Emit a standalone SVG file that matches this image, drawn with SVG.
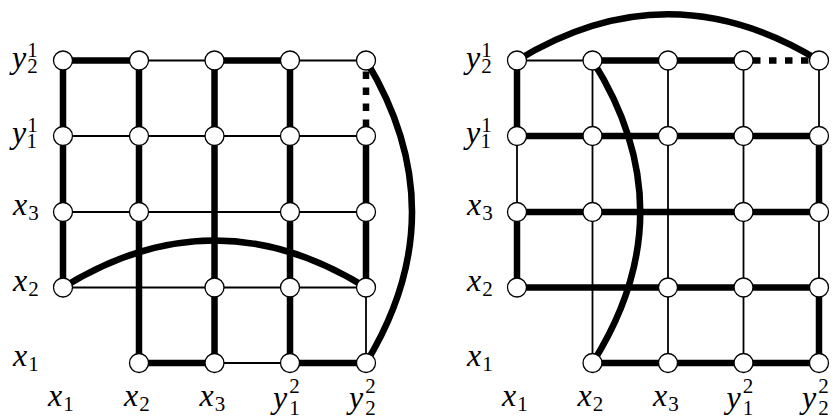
<svg xmlns="http://www.w3.org/2000/svg" width="833" height="420" viewBox="0 0 833 420">
<style>
  .thk { stroke:#000; stroke-width:6.5; fill:none; }
  .thn { stroke:#000; stroke-width:1.8; fill:none; }
  .dot { stroke:#000; stroke-width:6.5; fill:none; stroke-dasharray:7.5 8.5; }
  .nd { fill:#fff; stroke:#000; stroke-width:1.3; }
  .lbl { font-family:"Liberation Serif", "DejaVu Serif", serif; }
  .v { font-style:italic; font-size:32px; fill:#000; }
  .d { font-style:normal; font-size:21px; }
</style>
<defs>
  <circle id="node" r="9.5" class="nd"/>
</defs>

<g id="connectors">
  <line class="thk" x1="63" y1="60.5" x2="139" y2="60.5"/>
  <line class="thn" x1="139" y1="60.5" x2="214.5" y2="60.5"/>
  <line class="thk" x1="214.5" y1="60.5" x2="290" y2="60.5"/>
  <line class="thn" x1="290" y1="60.5" x2="366" y2="60.5"/>
  <line class="thn" x1="63" y1="136" x2="366" y2="136"/>
  <line class="thn" x1="63" y1="212" x2="366" y2="212"/>
  <line class="thn" x1="63" y1="287.5" x2="366" y2="287.5"/>
  <line class="thk" x1="139" y1="363" x2="214.5" y2="363"/>
  <line class="thn" x1="214.5" y1="363" x2="290" y2="363"/>
  <line class="thk" x1="290" y1="363" x2="366" y2="363"/>
  <line class="thk" x1="63" y1="60.5" x2="63" y2="287.5"/>
  <line class="thk" x1="139" y1="60.5" x2="139" y2="363"/>
  <line class="thk" x1="214.5" y1="60.5" x2="214.5" y2="363"/>
  <line class="thk" x1="290" y1="60.5" x2="290" y2="363"/>
  <line class="dot" x1="366" y1="71.5" x2="366" y2="127"/>
  <line class="thk" x1="366" y1="136" x2="366" y2="287.5"/>
  <line class="thn" x1="366" y1="287.5" x2="366" y2="363"/>
  <path class="thk" d="M63,287.5 Q214.5,193.5 366,287.5"/>
  <path class="thk" d="M366,60.5 Q458,211.75 366,363"/>

  <line class="thn" x1="517" y1="60.5" x2="592.5" y2="60.5"/>
  <line class="thk" x1="592.5" y1="60.5" x2="743.5" y2="60.5"/>
  <line class="dot" x1="753" y1="60.5" x2="812" y2="60.5"/>
  <line class="thk" x1="517" y1="136" x2="819" y2="136"/>
  <line class="thk" x1="517" y1="212" x2="819" y2="212"/>
  <line class="thk" x1="517" y1="287.5" x2="819" y2="287.5"/>
  <line class="thk" x1="592.5" y1="363" x2="819" y2="363"/>
  <line class="thk" x1="517" y1="60.5" x2="517" y2="136"/>
  <line class="thn" x1="517" y1="136" x2="517" y2="212"/>
  <line class="thk" x1="517" y1="212" x2="517" y2="287.5"/>
  <line class="thn" x1="592.5" y1="60.5" x2="592.5" y2="363"/>
  <line class="thn" x1="668" y1="60.5" x2="668" y2="363"/>
  <line class="thn" x1="743.5" y1="60.5" x2="743.5" y2="363"/>
  <line class="thn" x1="819" y1="60.5" x2="819" y2="136"/>
  <line class="thk" x1="819" y1="136" x2="819" y2="212"/>
  <line class="thn" x1="819" y1="212" x2="819" y2="287.5"/>
  <line class="thk" x1="819" y1="287.5" x2="819" y2="363"/>
  <path class="thk" d="M517,60.5 Q668,-32 819,60.5"/>
  <path class="thk" d="M592.5,60.5 Q688,211.75 592.5,363"/>
</g>

<g id="L-y21-x1"><use href="#node" x="63" y="60.5"/></g>
<g id="L-y21-x2"><use href="#node" x="139" y="60.5"/></g>
<g id="L-y21-x3"><use href="#node" x="214.5" y="60.5"/></g>
<g id="L-y21-y12"><use href="#node" x="290" y="60.5"/></g>
<g id="L-y21-y22"><use href="#node" x="366" y="60.5"/></g>
<g id="L-y11-x1"><use href="#node" x="63" y="136"/></g>
<g id="L-y11-x2"><use href="#node" x="139" y="136"/></g>
<g id="L-y11-x3"><use href="#node" x="214.5" y="136"/></g>
<g id="L-y11-y12"><use href="#node" x="290" y="136"/></g>
<g id="L-y11-y22"><use href="#node" x="366" y="136"/></g>
<g id="L-x3-x1"><use href="#node" x="63" y="212"/></g>
<g id="L-x3-x2"><use href="#node" x="139" y="212"/></g>
<g id="L-x3-y12"><use href="#node" x="290" y="212"/></g>
<g id="L-x3-y22"><use href="#node" x="366" y="212"/></g>
<g id="L-x2-x1"><use href="#node" x="63" y="287.5"/></g>
<g id="L-x2-x3"><use href="#node" x="214.5" y="287.5"/></g>
<g id="L-x2-y12"><use href="#node" x="290" y="287.5"/></g>
<g id="L-x2-y22"><use href="#node" x="366" y="287.5"/></g>
<g id="L-x1-x2"><use href="#node" x="139" y="363"/></g>
<g id="L-x1-x3"><use href="#node" x="214.5" y="363"/></g>
<g id="L-x1-y12"><use href="#node" x="290" y="363"/></g>
<g id="L-x1-y22"><use href="#node" x="366" y="363"/></g>

<g id="R-y21-x1"><use href="#node" x="517" y="60.5"/></g>
<g id="R-y21-x2"><use href="#node" x="592.5" y="60.5"/></g>
<g id="R-y21-x3"><use href="#node" x="668" y="60.5"/></g>
<g id="R-y21-y12"><use href="#node" x="743.5" y="60.5"/></g>
<g id="R-y21-y22"><use href="#node" x="819" y="60.5"/></g>
<g id="R-y11-x1"><use href="#node" x="517" y="136"/></g>
<g id="R-y11-x2"><use href="#node" x="592.5" y="136"/></g>
<g id="R-y11-x3"><use href="#node" x="668" y="136"/></g>
<g id="R-y11-y12"><use href="#node" x="743.5" y="136"/></g>
<g id="R-y11-y22"><use href="#node" x="819" y="136"/></g>
<g id="R-x3-x1"><use href="#node" x="517" y="212"/></g>
<g id="R-x3-x2"><use href="#node" x="592.5" y="212"/></g>
<g id="R-x3-y12"><use href="#node" x="743.5" y="212"/></g>
<g id="R-x3-y22"><use href="#node" x="819" y="212"/></g>
<g id="R-x2-x1"><use href="#node" x="517" y="287.5"/></g>
<g id="R-x2-x3"><use href="#node" x="668" y="287.5"/></g>
<g id="R-x2-y12"><use href="#node" x="743.5" y="287.5"/></g>
<g id="R-x2-y22"><use href="#node" x="819" y="287.5"/></g>
<g id="R-x1-x2"><use href="#node" x="592.5" y="363"/></g>
<g id="R-x1-x3"><use href="#node" x="668" y="363"/></g>
<g id="R-x1-y12"><use href="#node" x="743.5" y="363"/></g>
<g id="R-x1-y22"><use href="#node" x="819" y="363"/></g>

<g id="L-row-labels" class="lbl" font-family="Liberation Serif, DejaVu Serif, serif">
  <text class="v" x="12" y="67.5">y<tspan class="d" dx="1" dy="-11">1</tspan><tspan class="d" dx="-10.5" dy="16">2</tspan></text>
  <text class="v" x="12" y="143">y<tspan class="d" dx="1" dy="-11">1</tspan><tspan class="d" dx="-10.5" dy="16">1</tspan></text>
  <text class="v" x="13" y="215">x<tspan class="d" dx="1" dy="5">3</tspan></text>
  <text class="v" x="13" y="290.5">x<tspan class="d" dx="1" dy="5">2</tspan></text>
  <text class="v" x="13" y="366">x<tspan class="d" dx="1" dy="5">1</tspan></text>
</g>
<g id="L-col-labels" class="lbl" font-family="Liberation Serif, DejaVu Serif, serif">
  <text class="v" x="48" y="406">x<tspan class="d" dx="1" dy="5">1</tspan></text>
  <text class="v" x="124" y="406">x<tspan class="d" dx="1" dy="5">2</tspan></text>
  <text class="v" x="199.5" y="406">x<tspan class="d" dx="1" dy="5">3</tspan></text>
  <text class="v" x="273" y="408">y<tspan class="d" dx="2" dy="-15">2</tspan><tspan class="d" dx="-10.5" dy="22">1</tspan></text>
  <text class="v" x="349" y="408">y<tspan class="d" dx="2" dy="-15">2</tspan><tspan class="d" dx="-10.5" dy="22">2</tspan></text>
</g>

<g id="R-row-labels" class="lbl" font-family="Liberation Serif, DejaVu Serif, serif">
  <text class="v" x="466" y="67.5">y<tspan class="d" dx="1" dy="-11">1</tspan><tspan class="d" dx="-10.5" dy="16">2</tspan></text>
  <text class="v" x="466" y="143">y<tspan class="d" dx="1" dy="-11">1</tspan><tspan class="d" dx="-10.5" dy="16">1</tspan></text>
  <text class="v" x="467" y="215">x<tspan class="d" dx="1" dy="5">3</tspan></text>
  <text class="v" x="467" y="290.5">x<tspan class="d" dx="1" dy="5">2</tspan></text>
  <text class="v" x="467" y="366">x<tspan class="d" dx="1" dy="5">1</tspan></text>
</g>
<g id="R-col-labels" class="lbl" font-family="Liberation Serif, DejaVu Serif, serif">
  <text class="v" x="502" y="406">x<tspan class="d" dx="1" dy="5">1</tspan></text>
  <text class="v" x="577.5" y="406">x<tspan class="d" dx="1" dy="5">2</tspan></text>
  <text class="v" x="653" y="406">x<tspan class="d" dx="1" dy="5">3</tspan></text>
  <text class="v" x="726.5" y="408">y<tspan class="d" dx="2" dy="-15">2</tspan><tspan class="d" dx="-10.5" dy="22">1</tspan></text>
  <text class="v" x="802" y="408">y<tspan class="d" dx="2" dy="-15">2</tspan><tspan class="d" dx="-10.5" dy="22">2</tspan></text>
</g>
</svg>
